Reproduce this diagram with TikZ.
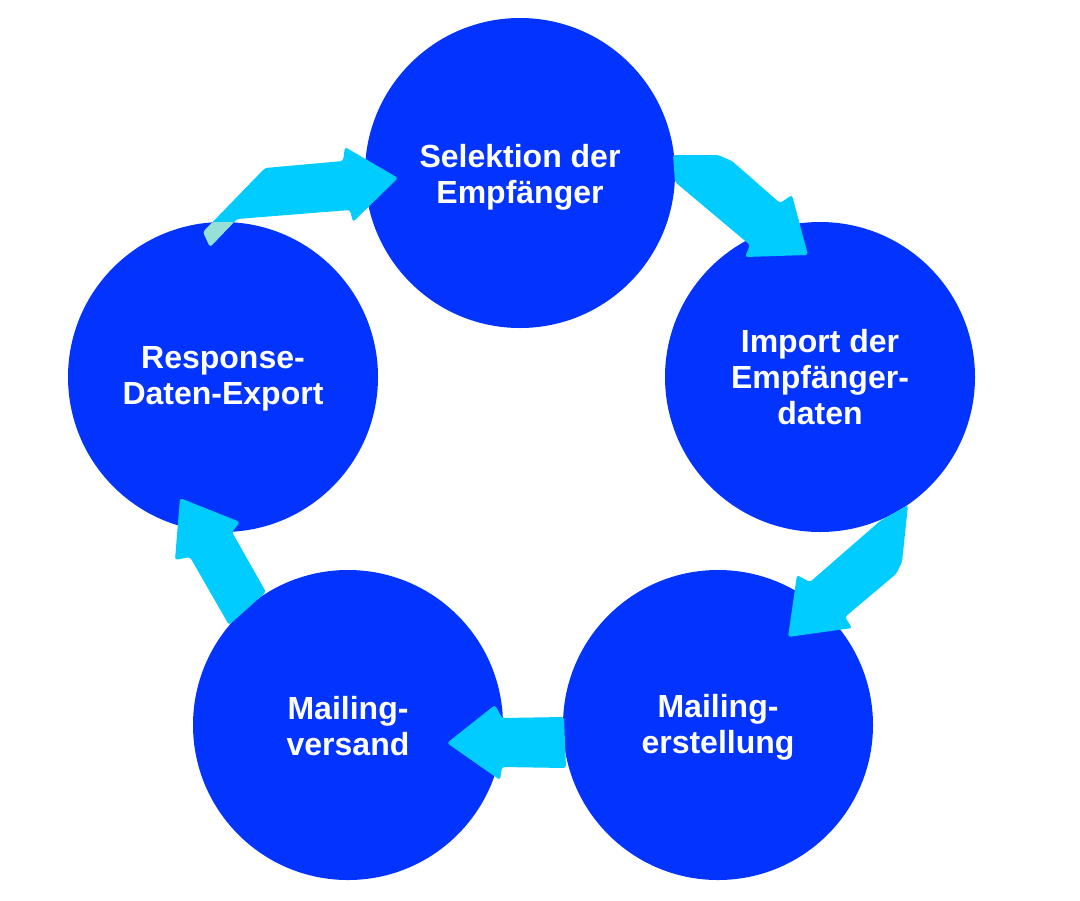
\documentclass[tikz,border=0pt]{standalone}
\usepackage{fontspec}
\setmainfont{Liberation Sans}
\usetikzlibrary{positioning,calc}
\definecolor{stepblue}{RGB}{3,52,255}
\definecolor{flowcyan}{RGB}{0,204,255}
\definecolor{flowteal}{RGB}{150,224,216}
\begin{document}
\begin{tikzpicture}
[x=0.75pt,y=-0.75pt,
stage/.style={circle,fill=stepblue,minimum size=232.5pt,inner sep=0pt},
stagetext/.style={text=white,align=center,
  font=\fontsize{24pt}{27pt}\selectfont\bfseries},
flow/.style={fill=flowcyan,rounded corners=2pt}]
\useasboundingbox (0,0) rectangle (1080,900);
\node[stage,label={[stagetext,yshift=-3.5pt]center:Selektion der\\Empf\"anger}]
  (selektion) at (520,173) {};
\node[stage,label={[stagetext]center:Import der\\Empf\"anger-\\daten}]
  (import) at (820,377) {};
\node[stage,label={[stagetext,yshift=-2pt]center:Mailing-\\erstellung}]
  (erstellung) at (718,725) {};
\node[stage,label={[stagetext,yshift=-1pt]center:Mailing-\\versand}]
  (versand) at (348,725) {};
\node[stage,label={[stagetext,yshift=-1.5pt]center:Response-\\Daten-Export}]
  (export) at (223,377) {};
% export -> selektion
\fill[flow] (210,247) -- (203,232) -- (265,168) -- (343,161) -- (345,147)
  -- (398,178) -- (353,222) -- (350,210) -- (237,219) -- cycle;
\begin{scope}
\clip (export.center) circle[radius=155];
\fill[flowteal,rounded corners=2pt] (210,247) -- (203,232) -- (265,168)
  -- (343,161) -- (350,210) -- (237,219) -- cycle;
\end{scope}
% selektion -> import
\fill[flow] (673,155) -- (718,155) -- (732,161) -- (780,203) -- (792,195)
  -- (808,255) -- (745,257) -- (750,245) -- (675,182) -- cycle;
% import -> erstellung
\fill[flow] (908,505) -- (902,562) -- (896,574) -- (845,617) -- (852,628)
  -- (788,637) -- (797,575) -- (810,582) -- (880,521) -- cycle;
% erstellung -> versand
\fill[flow] (564,717) -- (502,718) -- (495,705) -- (447,743) -- (500,780)
  -- (502,767) -- (566,768) -- cycle;
% versand -> export
\fill[flow] (266,592) -- (232,532) -- (240,522) -- (180,498) -- (175,560)
  -- (190,557) -- (229,625) -- cycle;
\end{tikzpicture}
\end{document}
